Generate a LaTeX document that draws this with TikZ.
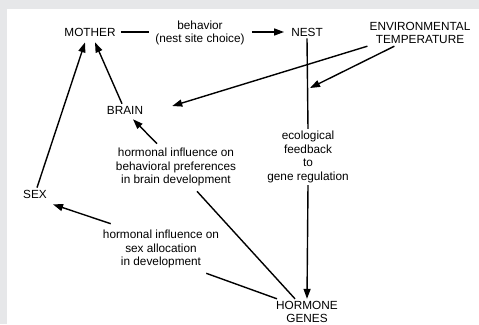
\documentclass[tikz,border=0pt]{standalone}
\usepackage{fontspec}
\setmainfont{Liberation Sans}
\usepackage{tikz}
\usetikzlibrary{arrows.meta,calc,positioning}
\definecolor{framegray}{HTML}{E6E7E9}

\begin{document}
\begin{tikzpicture}[x=1pt,y=-1pt,
    lbl/.style={align=center,inner sep=2pt,font=\fontsize{11.8}{13.6}\selectfont},
    link/.style={line width=1.4pt},
    flow/.style={line width=1.4pt,-{Triangle[length=10pt,width=7pt]}}]
  \useasboundingbox (0,0) rectangle (479,324);
  \fill[framegray] (0,0) rectangle (479,324);
  \fill[white] (7,9) rectangle (479,324);
  % nodes
  \node[lbl] (mother) at (90,32) {MOTHER};
  \node[lbl] (behav) at (200,33) {behavior\\(nest site choice)};
  \node[lbl] (nest) at (307,32) {NEST};
  \node[lbl] (envtemp) at (420,33) {ENVIRONMENTAL\\TEMPERATURE};
  \node[lbl] (brain) at (125,110) {BRAIN};
  \node[lbl] (sex) at (35,194) {SEX};
  \node[lbl] (hbrain) at (176,167) {hormonal influence on\\behavioral preferences\\in brain development};
  \node[lbl] (ecofb) at (308,157) {ecological\\feedback\\to\\gene regulation};
  \node[lbl] (hsex) at (161,249) {hormonal influence on\\sex allocation\\in development};
  \node[lbl] (hgenes) at (307,312) {HORMONE\\GENES};
  \coordinate (fbjoin) at (308,88);
  % connectors
  \draw[link] ([xshift=3pt]mother.east) -- ([xshift=-4pt]behav.west |- mother.east);
  \draw[flow] ([xshift=5pt]behav.east |- nest.west) -- ([xshift=-5pt]nest.west);
  \draw[link] (nest.south) -- (ecofb.north);
  \draw[flow] (ecofb.south) -- (hgenes.north);
  \draw[flow] ([xshift=27pt]envtemp.south west) -- ([xshift=2pt]fbjoin);
  \draw[flow] (envtemp.south west) -- ([xshift=27pt,yshift=4pt]brain.east);
  \draw[flow] ([xshift=-3pt]brain.north) -- ([xshift=5pt,yshift=-4pt]mother.south);
  \draw[flow] ([xshift=2pt]sex.north) -- ([xshift=-5pt,yshift=-4pt]mother.south);
  \draw[flow] ([xshift=-19pt,yshift=2pt]hbrain.north) -- ([xshift=8pt,yshift=-3pt]brain.south);
  \draw[link] ([xshift=21pt,yshift=-3pt]hbrain.south) -- ([xshift=-12pt]hgenes.north);
  \draw[flow] ([xshift=10pt,yshift=4pt]hsex.north west) -- ([xshift=4pt,yshift=-4pt]sex.south east);
  \draw[link] ([xshift=-15pt,yshift=-3pt]hsex.south east) -- ([xshift=-30pt]hgenes.north);
\end{tikzpicture}
\end{document}
